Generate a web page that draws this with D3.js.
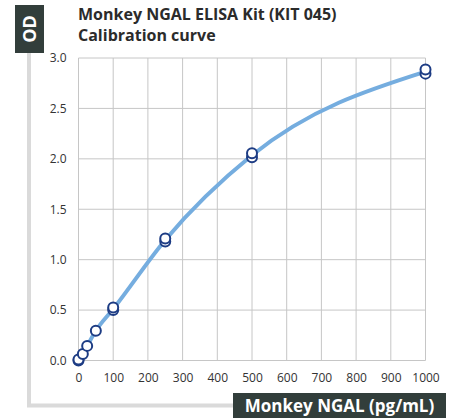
<!DOCTYPE html>
<html>
<head>
<meta charset="utf-8">
<script src="https://cdn.jsdelivr.net/npm/d3@7"></script>
<style>
  body { margin: 0; background: #fff; }
  text { font-family: "Open Sans", Lato, sans-serif; }
</style>
</head>
<body>
<div id="chart"></div>
<script>
// standards, duplicate wells
var conc = [0, 0, 12.5, 25, 50, 100, 100, 250, 250, 500, 500, 1000, 1000];
var od = [0.0, 0.01, 0.065, 0.145, 0.295, 0.50, 0.525, 1.18, 1.21, 2.015, 2.055, 2.845, 2.885];
// fitted curve
var fitX = [0, 12.5, 25, 50, 100, 250, 500, 1000];
var fitY = [0.0, 0.065, 0.145, 0.295, 0.51, 1.195, 2.035, 2.865];
var xTicks = [0, 100, 200, 300, 400, 500, 600, 700, 800, 900, 1000];
var yTicks = [0.0, 0.5, 1.0, 1.5, 2.0, 2.5, 3.0];

var W = 454, H = 418;
var svg = d3.select('#chart').append('svg')
    .attr('width', W)
    .attr('height', H);

var x = d3.scaleLinear().domain([0, 1000]).range([78.5, 425.5]);
var y = d3.scaleLinear().domain([0, 3]).range([360.5, 58]);

// grey frame
svg.append('path')
    .attr('d', 'M29,52 V405.5 H235')
    .attr('fill', 'none')
    .attr('stroke', '#dadada')
    .attr('stroke-width', 4);

// OD box
svg.append('rect').attr('x', 15).attr('y', 5).attr('width', 29).attr('height', 48).attr('fill', '#323e3b');
svg.append('text')
    .attr('transform', 'translate(35.5,29) rotate(-90)')
    .attr('text-anchor', 'middle')
    .attr('fill', '#fff')
    .attr('font-size', 18)
    .attr('font-weight', 'bold')
    .text('OD');

// title
svg.append('text').attr('x', 78).attr('y', 20).attr('font-size', 16).attr('font-weight', 'bold').attr('fill', '#2b2b2b')
    .text('Monkey NGAL ELISA Kit (KIT 045)');
svg.append('text').attr('x', 78).attr('y', 41).attr('font-size', 16).attr('font-weight', 'bold').attr('fill', '#2b2b2b')
    .text('Calibration curve');

// grid
var grid = svg.append('g').attr('stroke', '#c6c6c6').attr('stroke-width', 1);
grid.selectAll('.v').data(xTicks).enter().append('line')
    .attr('x1', d => x(d)).attr('x2', d => x(d))
    .attr('y1', y(0)).attr('y2', y(3));
grid.selectAll('.h').data(yTicks).enter().append('line')
    .attr('x1', x(0)).attr('x2', x(1000))
    .attr('y1', d => y(d)).attr('y2', d => y(d));

// axes labels
var xAxis = svg.append('g')
    .attr('transform', 'translate(0,' + y(0) + ')')
    .call(d3.axisBottom(x).tickValues(xTicks).tickSize(0).tickPadding(13).tickFormat(d3.format('d')));
var yAxis = svg.append('g')
    .attr('transform', 'translate(' + x(0) + ',0)')
    .call(d3.axisLeft(y).tickValues(yTicks).tickSize(0).tickPadding(12).tickFormat(d3.format('.1f')));
[xAxis, yAxis].forEach(function(a) {
  a.select('.domain').remove();
  a.selectAll('text').attr('font-size', 12).attr('fill', '#333')
      .style('font-family', '"Open Sans", Lato, sans-serif');
});

// curve
var line = d3.line()
    .x((d, i) => x(fitX[i]))
    .y(d => y(d))
    .curve(d3.curveMonotoneX);
svg.append('path')
    .datum(fitY)
    .attr('d', line)
    .attr('fill', 'none')
    .attr('stroke', '#75addf')
    .attr('stroke-width', 4)
    .attr('stroke-linecap', 'round');

// points
svg.selectAll('.pt').data(conc).enter().append('circle')
    .attr('cx', d => x(d))
    .attr('cy', (d, i) => y(od[i]))
    .attr('r', 5)
    .attr('fill', '#fff')
    .attr('stroke', '#1d3c84')
    .attr('stroke-width', 2);

// x axis title box
svg.append('rect').attr('x', 233).attr('y', 393).attr('width', 213).attr('height', 25).attr('fill', '#323e3b');
svg.append('text')
    .attr('x', 339.5).attr('y', 412)
    .attr('text-anchor', 'middle')
    .attr('fill', '#fff')
    .attr('font-size', 17)
    .attr('font-weight', 'bold')
    .text('Monkey NGAL (pg/mL)');
</script>
</body>
</html>
